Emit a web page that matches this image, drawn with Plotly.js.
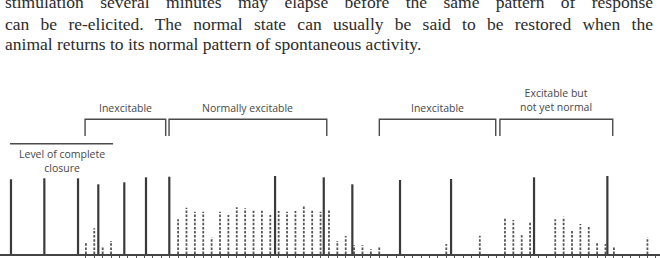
<!DOCTYPE html>
<html>
<head>
<meta charset="utf-8">
<script src="https://cdn.plot.ly/plotly-3.0.1.min.js"></script>
<style>
html,body{margin:0;padding:0;background:#fff;}
#chart{width:660px;height:258px;}
</style>
</head>
<body>
<div id="chart"></div>
<script>
// ---- data ----
// time slots of the graded responses (dotted bars) and their heights
const responseSlots = [0,1,2,3,11,12,13,14,15,16,17,18,19,20,21,22,23,24,25,26,27,28,29,30,31,32,33,34,35,43,47,50,51,52,53,56,57,58,59,60,61,62,63,67];
const responseHeights = [11.3,25.7,6.7,13,34.7,46.3,42.3,42.3,16.7,42.3,39,46.7,45.7,43.3,43.3,39,43,42.3,43,48,43.3,42.3,43.7,13,18,9,9,4.7,6.7,10,18.3,36.7,34,18.7,32.3,34.7,37.3,23,30,27.3,11.3,10,8.3,16.7];
// strong stimuli / complete closures (solid bars)
const closureSlots = [-8.94,-4.96,-0.94,1.48,4.58,7.17,9.95,22.57,28.38,31.79,37.48,43.57,53.47,62.22];
const closureHeights = [74.7,75.7,75.7,69.7,71.7,76.7,77.3,78,76.7,69.7,74,75,76.7,78];
// phases (brackets)
const phaseLabels = ["Inexcitable","Normally excitable","Inexcitable","Excitable but<br>not yet normal"];
const phaseStart = [-0.1, 9.92, 35.01, 49.4];
const phaseEnd = [9.52, 28.74, 48.9, 62.86];
const completeClosureLevel = 110.3;
const closureLabel = "Level of complete<br>closure";
const bodyLines = [
  "stimulation several minutes may elapse before the same pattern of response",
  "can be re-elicited. The normal state can usually be said to be restored when the",
  "animal returns to its normal pattern of spontaneous activity."
];
const lastSlot = 68;

// ---- traces ----
function stems(xs, hs){
  const x=[], y=[];
  xs.forEach((s,k)=>{ x.push(s,s,null); y.push(0,hs[k],null); });
  return {x,y};
}
const r = stems(responseSlots, responseHeights);
const c = stems(closureSlots, closureHeights);
const traces = [
  {type:'scatter', mode:'lines', x:r.x, y:r.y, hoverinfo:'skip', showlegend:false,
   line:{color:'#555', width:1.8, dash:'2.5px,1.6px'}},
  {type:'scatter', mode:'lines', x:c.x, y:c.y, hoverinfo:'skip', showlegend:false,
   line:{color:'#3a3a3a', width:2.2}}
];

const tickSlots = [];
for(let k=0;k<=lastSlot;k++) tickSlots.push(k);

// ---- layout ----
const shapes = [];
const annotations = [];
const labelFont = {family:'"Open Sans", Lato, sans-serif', size:10.5, color:'#474747'};
phaseLabels.forEach((lab,k)=>{
  const a = phaseStart[k], b = phaseEnd[k];
  shapes.push({type:'path', xref:'x', yref:'y',
    path:`M${a},118 L${a},134.7 L${b},134.7 L${b},118`,
    line:{color:'#4a4a4a', width:1.4}});
  const twoLines = lab.indexOf('<br>')>=0;
  annotations.push({xref:'x', yref:'y', x:(a+b)/2, y: twoLines?154:146, text:lab,
    showarrow:false, font:labelFont, xanchor:'center', yanchor:'middle'});
});
shapes.push({type:'line', xref:'x', yref:'y', x0:-9.06, x1:3.24, y0:completeClosureLevel, y1:completeClosureLevel,
  line:{color:'#4a4a4a', width:1.4}});
annotations.push({xref:'x', yref:'y', x:-2.9, y:93.5, text:closureLabel, showarrow:false,
  font:labelFont, xanchor:'center', yanchor:'middle'});

const bodyFont = {family:'"Liberation Serif", "DejaVu Serif", serif', size:17.5, color:'#2b2b2b'};
const bodyY = [1.5, 24.5, 44.5];
bodyLines.forEach((t,k)=>{
  annotations.push({xref:'paper', yref:'paper', x:4/660, y:1-bodyY[k]/258, text:t, align:'left',
    showarrow:false, font:bodyFont, xanchor:'left', yanchor:'middle', borderpad:0});
});

const layout = {
  width:660, height:258, autosize:false,
  margin:{l:0,r:0,t:0,b:0,pad:0},
  paper_bgcolor:'#ffffff', plot_bgcolor:'#ffffff',
  showlegend:false,
  xaxis:{range:[-10.25,68.5], anchor:'free', position:4/258, showgrid:false, zeroline:false,
    showline:true, linecolor:'#444', linewidth:1.6,
    ticks:'outside', ticklen:4, tickwidth:1, tickcolor:'#555',
    tickmode:'array', tickvals:tickSlots, showticklabels:false, fixedrange:true},
  yaxis:{range:[-4,254], showgrid:false, zeroline:false, showline:false, showticklabels:false,
    ticks:'', fixedrange:true},
  shapes:shapes,
  annotations:annotations
};

Plotly.newPlot('chart', traces, layout, {staticPlot:true, displayModeBar:false}).then(gd=>{
  // justify the first two lines of the paragraph to the text column width
  const target = 648;
  gd.querySelectorAll('.annotation-text').forEach(el=>{
    const txt = el.textContent;
    if(txt===bodyLines[0] || txt===bodyLines[1]){
      const w = el.getComputedTextLength();
      const n = (txt.match(/ /g)||[]).length;
      el.style.wordSpacing = ((target - w)/n) + 'px';
    }
  });
});
</script>
</body>
</html>
